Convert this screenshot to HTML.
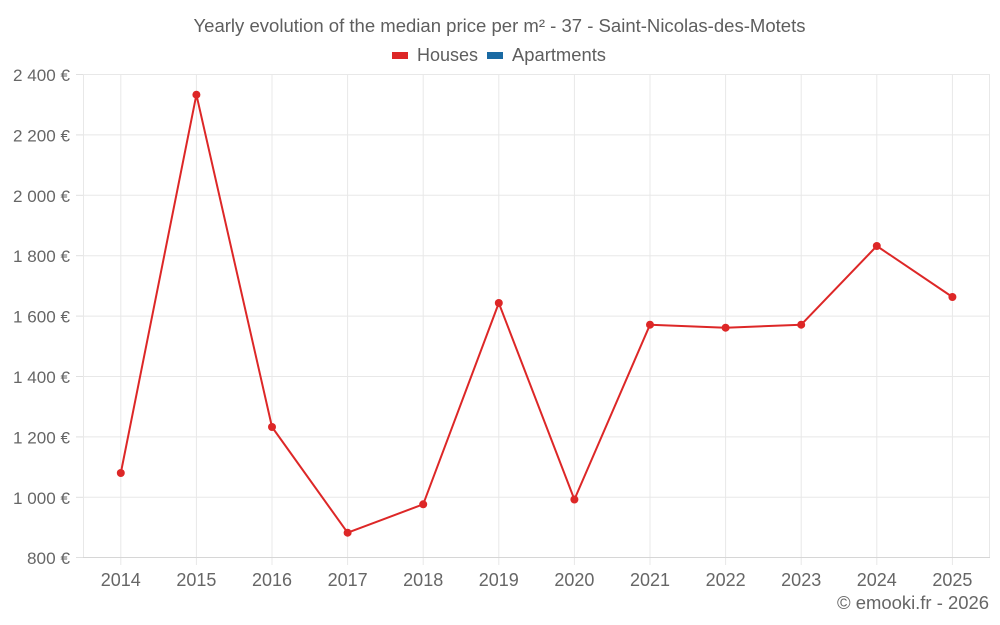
<!DOCTYPE html>
<html><head><meta charset="utf-8"><style>
html,body{margin:0;padding:0;background:#fff;}
svg{display:block;}
text{font-family:"Liberation Sans",Arial,sans-serif;}
</style></head><body>
<svg width="1000" height="625" viewBox="0 0 1000 625" xmlns="http://www.w3.org/2000/svg">
<rect width="1000" height="625" fill="#fff"/>
<!-- horizontal grid -->
<g stroke="#e8e8e8" stroke-width="1">
<line x1="83" y1="74.5" x2="990" y2="74.5"/>
<line x1="83" y1="134.9" x2="990" y2="134.9"/>
<line x1="83" y1="195.3" x2="990" y2="195.3"/>
<line x1="83" y1="255.7" x2="990" y2="255.7"/>
<line x1="83" y1="316.1" x2="990" y2="316.1"/>
<line x1="83" y1="376.5" x2="990" y2="376.5"/>
<line x1="83" y1="436.9" x2="990" y2="436.9"/>
<line x1="83" y1="497.3" x2="990" y2="497.3"/>
<!-- vertical grid -->
<line x1="83.5" y1="74" x2="83.5" y2="557"/>
<line x1="120.8" y1="74" x2="120.8" y2="565"/>
<line x1="196.4" y1="74" x2="196.4" y2="565"/>
<line x1="272" y1="74" x2="272" y2="565"/>
<line x1="347.6" y1="74" x2="347.6" y2="565"/>
<line x1="423.2" y1="74" x2="423.2" y2="565"/>
<line x1="498.8" y1="74" x2="498.8" y2="565"/>
<line x1="574.4" y1="74" x2="574.4" y2="565"/>
<line x1="650" y1="74" x2="650" y2="565"/>
<line x1="725.6" y1="74" x2="725.6" y2="565"/>
<line x1="801.2" y1="74" x2="801.2" y2="565"/>
<line x1="876.8" y1="74" x2="876.8" y2="565"/>
<line x1="952.4" y1="74" x2="952.4" y2="565"/>
<line x1="989.5" y1="74" x2="989.5" y2="557"/>
</g>
<!-- y ticks -->
<g stroke="#e0e0e0" stroke-width="1">
<line x1="76" y1="74.5" x2="83" y2="74.5"/>
<line x1="76" y1="134.9" x2="83" y2="134.9"/>
<line x1="76" y1="195.3" x2="83" y2="195.3"/>
<line x1="76" y1="255.7" x2="83" y2="255.7"/>
<line x1="76" y1="316.1" x2="83" y2="316.1"/>
<line x1="76" y1="376.5" x2="83" y2="376.5"/>
<line x1="76" y1="436.9" x2="83" y2="436.9"/>
<line x1="76" y1="497.3" x2="83" y2="497.3"/>
<line x1="76" y1="557.5" x2="83" y2="557.5"/>
</g>
<!-- x axis line -->
<line x1="83" y1="557.5" x2="990" y2="557.5" stroke="#d6d6d6" stroke-width="1"/>
<!-- title -->
<text x="499.5" y="32" text-anchor="middle" font-size="18" fill="#5e5e5e" textLength="612" lengthAdjust="spacingAndGlyphs">Yearly evolution of the median price per m² - 37 - Saint-Nicolas-des-Motets</text>
<!-- legend -->
<rect x="392" y="52" width="16" height="7" fill="#dd2727"/>
<text x="417" y="61" font-size="18" fill="#5e5e5e" textLength="61" lengthAdjust="spacingAndGlyphs">Houses</text>
<rect x="487" y="52" width="16" height="7" fill="#1a6aa3"/>
<text x="512" y="61" font-size="18" fill="#5e5e5e" textLength="94" lengthAdjust="spacingAndGlyphs">Apartments</text>
<!-- y labels -->
<g font-size="17" fill="#666" text-anchor="end">
<text x="70" y="81" textLength="57" lengthAdjust="spacingAndGlyphs">2 400 €</text>
<text x="70" y="141.4" textLength="57" lengthAdjust="spacingAndGlyphs">2 200 €</text>
<text x="70" y="201.8" textLength="57" lengthAdjust="spacingAndGlyphs">2 000 €</text>
<text x="70" y="262.2" textLength="57" lengthAdjust="spacingAndGlyphs">1 800 €</text>
<text x="70" y="322.6" textLength="57" lengthAdjust="spacingAndGlyphs">1 600 €</text>
<text x="70" y="383" textLength="57" lengthAdjust="spacingAndGlyphs">1 400 €</text>
<text x="70" y="443.4" textLength="57" lengthAdjust="spacingAndGlyphs">1 200 €</text>
<text x="70" y="503.8" textLength="57" lengthAdjust="spacingAndGlyphs">1 000 €</text>
<text x="70" y="564" textLength="43" lengthAdjust="spacingAndGlyphs">800 €</text>
</g>
<!-- x labels -->
<g font-size="18" fill="#666" text-anchor="middle">
<text x="120.8" y="586">2014</text>
<text x="196.4" y="586">2015</text>
<text x="272" y="586">2016</text>
<text x="347.6" y="586">2017</text>
<text x="423.2" y="586">2018</text>
<text x="498.8" y="586">2019</text>
<text x="574.4" y="586">2020</text>
<text x="650" y="586">2021</text>
<text x="725.6" y="586">2022</text>
<text x="801.2" y="586">2023</text>
<text x="876.8" y="586">2024</text>
<text x="952.4" y="586">2025</text>
</g>
<!-- credit -->
<text x="989" y="609" text-anchor="end" font-size="18" fill="#666" textLength="152" lengthAdjust="spacingAndGlyphs">© emooki.fr - 2026</text>
<!-- series -->
<polyline fill="none" stroke="#dd2727" stroke-width="2" stroke-linejoin="round" points="120.8,473 196.4,94.7 272,427 347.6,532.7 423.2,504.3 498.8,303 574.4,499.5 650,324.7 725.6,327.7 801.2,324.7 876.8,246 952.4,297"/>
<g fill="#dd2727">
<circle cx="120.8" cy="473" r="4"/>
<circle cx="196.4" cy="94.7" r="4"/>
<circle cx="272" cy="427" r="4"/>
<circle cx="347.6" cy="532.7" r="4"/>
<circle cx="423.2" cy="504.3" r="4"/>
<circle cx="498.8" cy="303" r="4"/>
<circle cx="574.4" cy="499.5" r="4"/>
<circle cx="650" cy="324.7" r="4"/>
<circle cx="725.6" cy="327.7" r="4"/>
<circle cx="801.2" cy="324.7" r="4"/>
<circle cx="876.8" cy="246" r="4"/>
<circle cx="952.4" cy="297" r="4"/>
</g>
</svg>
</body></html>
